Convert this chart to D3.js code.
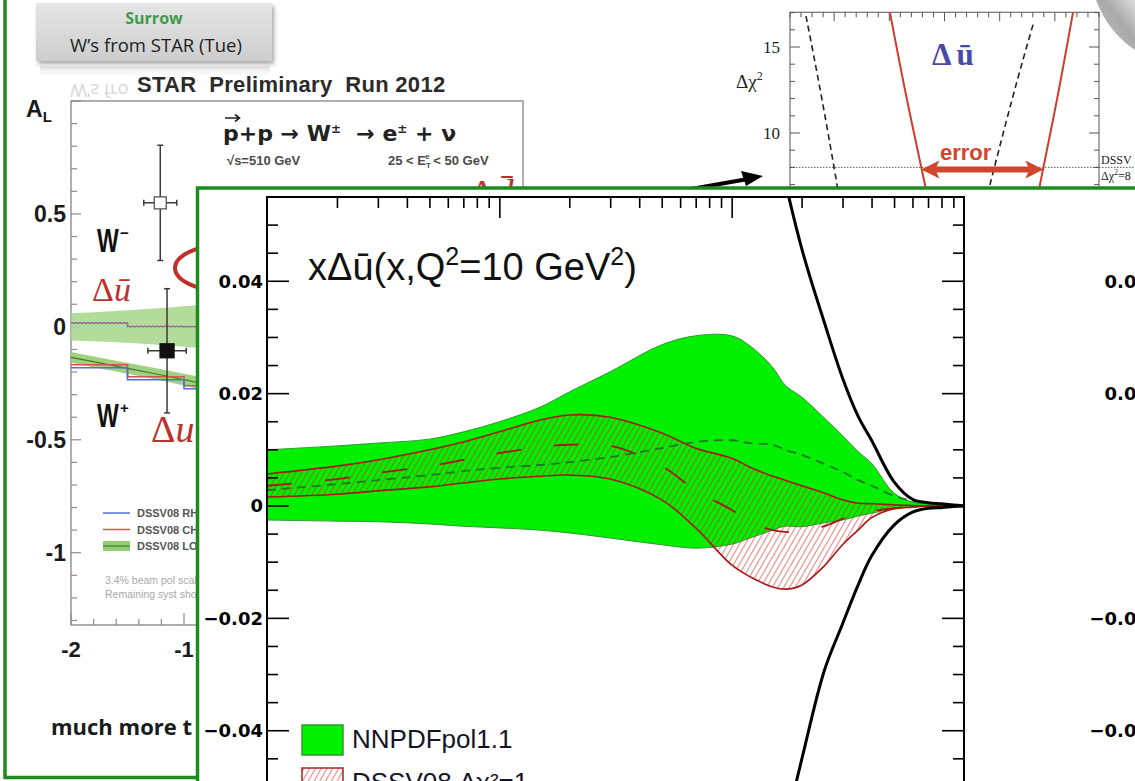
<!DOCTYPE html>
<html><head><meta charset="utf-8">
<script src="https://cdn.jsdelivr.net/npm/d3@7"></script>
<style>
html,body{margin:0;padding:0;background:#fff;}
svg{display:block;}
</style></head><body>
<svg id="chart" width="1135" height="781"></svg>
<script>
// ---------- x*Delta-ubar(x, Q^2 = 10 GeV^2) ----------
const xGrid = [0.001,0.002,0.003,0.005,0.007,0.01,0.015,0.02,0.03,0.05,0.07,0.1,0.12,0.15,0.17,0.2,0.25,0.3,0.35,0.4,0.5,0.6,0.7,0.8,0.9,1.0];
const nnpdfUpper = [0.0100,0.0107,0.0112,0.0119,0.0132,0.0150,0.0176,0.0203,0.0239,0.0287,0.0303,0.0303,0.0285,0.0247,0.0215,0.0194,0.0157,0.0125,0.0097,0.0076,0.0023,0.0007,0.0004,0.0002,0.0000,0.0000];
const nnpdfLower = [-0.0025,-0.0027,-0.0028,-0.0032,-0.0036,-0.0039,-0.0043,-0.0048,-0.0057,-0.0069,-0.0075,-0.0068,-0.0057,-0.0043,-0.0036,-0.0037,-0.0030,-0.0025,-0.0018,-0.0013,-0.0005,-0.0002,-0.0001,0,0,0];
const nnpdfCentral = [0.0028,0.0039,0.0046,0.0055,0.0062,0.0068,0.0073,0.0078,0.0087,0.0103,0.0114,0.0117,0.0112,0.0109,0.0100,0.0091,0.0075,0.0061,0.0046,0.0036,0.0018,0.0009,0.0004,0.0002,0,0];
const dssvUpper = [0.0057,0.0071,0.0082,0.0100,0.0114,0.0132,0.0153,0.0162,0.0158,0.0130,0.0103,0.0085,0.0069,0.0053,0.0046,0.0036,0.0023,0.0011,0.0005,0.0004,0.0002,0.0001,0,0,0,0];
const dssvLower = [0.0016,0.0021,0.0027,0.0034,0.0041,0.0048,0.0053,0.0055,0.0048,0.0011,-0.0039,-0.0105,-0.0126,-0.0144,-0.0148,-0.0141,-0.0107,-0.0069,-0.0043,-0.0021,-0.0005,-0.0002,0,0,0,0];
const dssvCentral = [0.0036,0.0048,0.0059,0.0071,0.0082,0.0094,0.0105,0.0109,0.0107,0.0071,0.0028,-0.0007,-0.0028,-0.0043,-0.0046,-0.0046,-0.0036,-0.0023,-0.0014,-0.0009,-0.0004,-0.0002,-0.0001,0,0,0];
const boundX = [0.15,0.2,0.25,0.3,0.35,0.4,0.5,0.6,0.7,0.8,0.9,1.0];
const boundUpper = [0.0675,0.0459,0.0328,0.0228,0.0160,0.0117,0.0043,0.0012,0.0006,0.0004,0.0002,0];
const boundLower = [-0.0666,-0.0452,-0.0294,-0.0210,-0.0141,-0.0089,-0.0034,-0.0011,-0.0004,-0.0003,-0.0001,0];
const pdfYLabels = [0.04,0.02,0,-0.02,-0.04];
const legendNames = ["NNPDFpol1.1","DSSV08 \u0394\u03c7\u00b2=1"];

// ---------- STAR W asymmetry A_L vs eta ----------
const starEta = [-1.21,-1.15];
const starAL = [0.549,-0.106];
const starErrAL = [0.255,0.275];
const starErrEta = [0.146,0.17];
const bandEta = [-2.0,-1.6,-1.2,-0.8];
const wmBandHi = [0.060,0.070,0.083,0.100];
const wmBandLo = [-0.060,-0.068,-0.080,-0.097];
const wpBandHi = [-0.111,-0.150,-0.188,-0.228];
const wpBandLo = [-0.159,-0.198,-0.238,-0.282];
const stepEdges = [-2.0,-1.5,-1.0,-0.5];
const wmStepBlue = [0.016,0.001,0.0];
const wmStepRed = [0.018,0.003,0.002];
const wpStepBlue = [-0.181,-0.234,-0.274];
const wpStepRed = [-0.168,-0.221,-0.261];
const starYLabels = [0.5,0,-0.5,-1];
const starXLabels = [-2,-1,0,1,2];

// ---------- Delta chi^2 profile ----------
const chiRedLeftU = [-0.0494,-0.0340,-0.0177,-0.0161];
const chiRedLeftV = [17,11.94,7,6.5];
const chiRedRightU = [0.1164,0.1019,0.0865,0.0848];
const chiRedRightV = [17,11.94,7,6.5];
const chiDashLeftU = [-0.1255,-0.1110,-0.0974,-0.0965];
const chiDashLeftV = [16.8,11.94,7,6.5];
const chiDashRightU = [0.0802,0.0612,0.0412,0.0390];
const chiDashRightV = [16.3,11.94,7,6.5];
const chiYLabels = [10,15];
const chiTolerance = 8;

const svg = d3.select("#chart");
const defs = svg.append("defs");

const hatch = defs.append("pattern").attr("id","hatch")
  .attr("patternUnits","userSpaceOnUse").attr("width",5).attr("height",5)
  .attr("patternTransform","rotate(30)");
hatch.append("line").attr("x1",2.5).attr("y1",-1).attr("x2",2.5).attr("y2",6)
  .attr("stroke","#d42424").attr("stroke-width",1.1).attr("stroke-opacity",0.55);

const boxGrad = defs.append("linearGradient").attr("id","boxGrad").attr("x1",0).attr("y1",0).attr("x2",0).attr("y2",1);
boxGrad.append("stop").attr("offset","0%").attr("stop-color","#e6e6e6");
boxGrad.append("stop").attr("offset","100%").attr("stop-color","#cdcdcd");
const reflGrad = defs.append("linearGradient").attr("id","reflGrad").attr("x1",0).attr("y1",0).attr("x2",0).attr("y2",1);
reflGrad.append("stop").attr("offset","0%").attr("stop-color","#d0d0d0").attr("stop-opacity",0.8);
reflGrad.append("stop").attr("offset","100%").attr("stop-color","#ffffff").attr("stop-opacity",0);
const curlGrad = defs.append("linearGradient").attr("id","curlGrad").attr("x1",0).attr("y1",1).attr("x2",1).attr("y2",0);
curlGrad.append("stop").attr("offset","0%").attr("stop-color","#c4c4c4");
curlGrad.append("stop").attr("offset","60%").attr("stop-color","#a9a9a9");
curlGrad.append("stop").attr("offset","100%").attr("stop-color","#dcdcdc");
defs.append("filter").attr("id","soft").append("feGaussianBlur").attr("stdDeviation",2);
defs.append("clipPath").attr("id","reflClip").append("rect").attr("x",40).attr("y",60).attr("width",95).attr("height",40);

const FRAME_GREEN = "#1d8c1d";
const sans = "'Liberation Sans', Arial, sans-serif";
const wide = "'DejaVu Sans', Verdana, sans-serif";
const serif = "'Liberation Serif', 'DejaVu Serif', serif";
const noteFont = "'Open Sans', Lato, sans-serif";

// ===== slide frame =====
svg.append("line").attr("x1",5).attr("y1",0).attr("x2",5).attr("y2",779)
  .attr("stroke",FRAME_GREEN).attr("stroke-width",3.5);
svg.append("line").attr("x1",4).attr("y1",777.5).attr("x2",205).attr("y2",777.5)
  .attr("stroke",FRAME_GREEN).attr("stroke-width",3.5);

// ===== speaker note box =====
const note = svg.append("g");
note.append("rect").attr("x",38).attr("y",6).attr("width",236).attr("height",58)
  .attr("fill","#000").attr("opacity",0.35).attr("filter","url(#soft)");
note.append("rect").attr("x",36).attr("y",3).attr("width",236).attr("height",58).attr("fill","url(#boxGrad)");
note.append("text").attr("x",154).attr("y",24).attr("text-anchor","middle")
  .style("font-family",noteFont).style("font-weight","bold").style("font-size","16px")
  .attr("fill","#3f9a4c").text("Surrow");
note.append("text").attr("x",156).attr("y",52).attr("text-anchor","middle")
  .style("font-family",noteFont).style("font-size","18.5px")
  .attr("fill","#1e1e1e").text("W\u2019s from STAR (Tue)");
// faded reflection under the note
note.append("rect").attr("x",40).attr("y",66).attr("width",230).attr("height",12).attr("fill","url(#reflGrad)");
note.append("g").attr("clip-path","url(#reflClip)")
  .append("text").attr("transform","translate(0,136) scale(1,-1)").attr("x",70).attr("y",52)
  .style("font-family",noteFont).style("font-size","18.5px")
  .attr("fill","#d6d6d6").text("W\u2019s fro");

// ===== STAR A_L panel =====
const eta = d3.scaleLinear().domain([-2,2]).range([71,523]);
const al = d3.scaleLinear().domain([-1.32,1]).range([625,101]);
const star = svg.append("g");
star.append("text").attr("x",137).attr("y",92)
  .style("font-family",sans).style("font-weight","bold").style("font-size","22px").style("letter-spacing","0.3px")
  .attr("fill","#2b2b2b").attr("xml:space","preserve").text("STAR  Preliminary  Run 2012");
const aL = star.append("text").attr("x",26).attr("y",117)
  .style("font-family",sans).style("font-weight","bold").attr("fill","#1a1a1a");
aL.append("tspan").style("font-size","23px").text("A");
aL.append("tspan").style("font-size","15px").attr("dy",5).text("L");

star.append("rect").attr("x",eta(-2)).attr("y",al(1)).attr("width",eta(2)-eta(-2)).attr("height",al(-1.32)-al(1))
  .attr("fill","#fff").attr("stroke","#8c8c8c").attr("stroke-width",1.4);
const alTicks = d3.range(-13,11).map(i => i/10);
star.append("g").selectAll("line").data(alTicks).join("line")
  .attr("x1",eta(-2)).attr("x2",d => eta(-2) + (Math.abs(d*2 - Math.round(d*2)) < 1e-6 ? 10 : 6))
  .attr("y1",d => al(d)).attr("y2",d => al(d)).attr("stroke","#8c8c8c").attr("stroke-width",1.2);
const etaTicks = d3.range(-10,11).map(i => i/5);
star.append("g").selectAll("line").data(etaTicks).join("line")
  .attr("x1",d => eta(d)).attr("x2",d => eta(d))
  .attr("y1",al(-1.32)).attr("y2",d => al(-1.32) - (Math.abs(d - Math.round(d)) < 1e-6 ? 12 : 6))
  .attr("stroke","#8c8c8c").attr("stroke-width",1.2);
star.append("g").selectAll("text").data(starYLabels).join("text")
  .attr("x",66).attr("y",d => al(d)).attr("dy","0.36em").attr("text-anchor","end")
  .style("font-family",sans).style("font-weight","bold").style("font-size","23px").attr("fill","#1a1a1a")
  .text(d => d === 0 ? "0" : String(d));
star.append("g").selectAll("text").data(starXLabels).join("text")
  .attr("x",d => eta(d)).attr("y",657).attr("text-anchor","middle")
  .style("font-family",sans).style("font-weight","bold").style("font-size","22px").attr("fill","#1a1a1a")
  .text(d => String(d));

// process header
const proc = star.append("text").attr("x",223).attr("y",141)
  .style("font-family",wide).style("font-weight","bold").style("font-size","22px").attr("fill","#222");
proc.append("tspan").text("p+p \u2192 W");
proc.append("tspan").attr("dy",-8).style("font-size","12px").text("\u00b1");
proc.append("tspan").attr("dy",8).attr("xml:space","preserve").text("  \u2192 e");
proc.append("tspan").attr("dy",-8).style("font-size","12px").text("\u00b1");
proc.append("tspan").attr("dy",8).text(" + \u03bd");
star.append("path").attr("d","M225,118 L239,118 M235,114.5 L239.5,118 L235,121.5")
  .attr("fill","none").attr("stroke","#222").attr("stroke-width",1.6);
star.append("text").attr("x",227).attr("y",165)
  .style("font-family",sans).style("font-weight","bold").style("font-size","13px").attr("fill","#4a4a4a")
  .text("\u221as=510 GeV");
const et = star.append("text").attr("x",388).attr("y",165)
  .style("font-family",sans).style("font-weight","bold").style("font-size","13px").attr("fill","#4a4a4a");
et.append("tspan").text("25 < E");
et.append("tspan").attr("dy",3).style("font-size","8px").text("T");
et.append("tspan").attr("dx",-5).attr("dy",-9).style("font-size","8px").text("e");
et.append("tspan").attr("dy",6).text(" < 50 GeV");
star.append("text").attr("x",470).attr("y",206)
  .style("font-family",serif).style("font-size","38px").attr("fill","#c0302a")
  .html("\u0394<tspan font-style='italic'>d\u0304</tspan>");

// theory bands
const areaEta = (hi, lo) => d3.area().x((d,i) => eta(bandEta[i])).y0((d,i) => al(lo[i])).y1((d,i) => al(hi[i])).curve(d3.curveMonotoneX);
star.append("path").datum(bandEta).attr("d",areaEta(wmBandHi,wmBandLo)).attr("fill","#a6d68a").attr("opacity",0.85);
star.append("path").datum(bandEta).attr("d",areaEta(wpBandHi,wpBandLo)).attr("fill","#93cc72").attr("opacity",0.9);
star.append("path").datum(bandEta)
  .attr("d",d3.line().x((d,i) => eta(bandEta[i])).y((d,i) => al((wpBandHi[i]+wpBandLo[i])/2)).curve(d3.curveMonotoneX))
  .attr("fill","none").attr("stroke","#3d7d2a").attr("stroke-width",1.2);
const stepLine = vals => d3.line().x(d => eta(d[0])).y(d => al(d[1])).curve(d3.curveStepAfter)(
  stepEdges.map((e,i) => [e, vals[Math.min(i, vals.length-1)]]));
star.append("path").attr("d",stepLine(wmStepRed)).attr("fill","none").attr("stroke","#d05555").attr("stroke-width",1.5).attr("stroke-dasharray","2,2");
star.append("path").attr("d",stepLine(wmStepBlue)).attr("fill","none").attr("stroke","#5070d6").attr("stroke-width",1.5).attr("stroke-dasharray","2,2").attr("stroke-dashoffset",2);
star.append("path").attr("d",stepLine(wpStepRed)).attr("fill","none").attr("stroke","#d05555").attr("stroke-width",1.6);
star.append("path").attr("d",stepLine(wpStepBlue)).attr("fill","none").attr("stroke","#5070d6").attr("stroke-width",1.6);

// data points with error bars
starEta.forEach((e,i) => {
  const g = star.append("g").attr("stroke","#3a3a3a").attr("stroke-width",1.5);
  g.append("line").attr("x1",eta(e)).attr("x2",eta(e)).attr("y1",al(starAL[i]+starErrAL[i])).attr("y2",al(starAL[i]-starErrAL[i]));
  g.append("line").attr("x1",eta(e)-3).attr("x2",eta(e)+3).attr("y1",al(starAL[i]+starErrAL[i])).attr("y2",al(starAL[i]+starErrAL[i]));
  g.append("line").attr("x1",eta(e)-3).attr("x2",eta(e)+3).attr("y1",al(starAL[i]-starErrAL[i])).attr("y2",al(starAL[i]-starErrAL[i]));
  g.append("line").attr("x1",eta(e-starErrEta[i])).attr("x2",eta(e+starErrEta[i])).attr("y1",al(starAL[i])).attr("y2",al(starAL[i]));
  g.append("line").attr("x1",eta(e-starErrEta[i])).attr("x2",eta(e-starErrEta[i])).attr("y1",al(starAL[i])-3).attr("y2",al(starAL[i])+3);
  g.append("line").attr("x1",eta(e+starErrEta[i])).attr("x2",eta(e+starErrEta[i])).attr("y1",al(starAL[i])-3).attr("y2",al(starAL[i])+3);
  const s = i === 0 ? 12 : 14;
  star.append("rect").attr("x",eta(e)-s/2).attr("y",al(starAL[i])-s/2).attr("width",s).attr("height",s)
    .attr("fill",i === 0 ? "#fff" : "#111").attr("stroke",i === 0 ? "#555" : "#111").attr("stroke-width",1.3);
});

// boson and quark labels
[["W","\u2212",252],["W","+",427]].forEach(([w,sgn,y]) => {
  star.append("text").attr("transform",`translate(97,${y}) scale(0.7,1)`)
    .style("font-family",sans).style("font-weight","bold").style("font-size","33px").attr("fill","#111").text(w);
  star.append("text").attr("x",120).attr("y",y-14)
    .style("font-family",sans).style("font-weight","bold").style("font-size","15px").attr("fill","#111").text(sgn);
});
star.append("text").attr("x",92).attr("y",301)
  .style("font-family",serif).style("font-size","34px").attr("fill","#c0302a")
  .html("\u0394<tspan font-style='italic'>u\u0304</tspan>");
star.append("text").attr("x",151).attr("y",442)
  .style("font-family",serif).style("font-size","38px").attr("fill","#c0302a")
  .html("\u0394<tspan font-style='italic'>u</tspan>");
star.append("ellipse").attr("cx",236).attr("cy",268).attr("rx",61).attr("ry",25)
  .attr("fill","none").attr("stroke","#c0302a").attr("stroke-width",4);

// STAR legend
const starLegend = [["#5070d6","DSSV08 RHICBOS"],["#d05555","DSSV08 CHE NLO"],["#93cc72","DSSV08 LO"]];
starLegend.forEach(([c,t],i) => {
  const y = 513 + i*16.5;
  if (i === 2) {
    star.append("rect").attr("x",103).attr("y",y-5).attr("width",27).attr("height",10).attr("fill",c);
    star.append("line").attr("x1",103).attr("x2",130).attr("y1",y).attr("y2",y).attr("stroke","#3d7d2a").attr("stroke-width",1.2);
  } else {
    star.append("line").attr("x1",103).attr("x2",130).attr("y1",y).attr("y2",y).attr("stroke",c).attr("stroke-width",1.5);
  }
  star.append("text").attr("x",137).attr("y",y+4)
    .style("font-family",sans).style("font-weight","bold").style("font-size","11px").attr("fill","#555").text(t);
});
star.append("text").attr("x",105).attr("y",584).style("font-family",sans).style("font-size","10.5px").attr("fill","#a8a8a8")
  .text("3.4% beam pol scale unc. not shown");
star.append("text").attr("x",105).attr("y",598).style("font-family",sans).style("font-size","10.5px").attr("fill","#a8a8a8")
  .text("Remaining syst shown");

svg.append("text").attr("x",51).attr("y",735)
  .style("font-family",noteFont).style("font-weight","bold").style("font-size","22px").attr("fill","#1a1a1a")
  .text("much more t");

// ===== Delta chi^2 profile panel =====
const cu = d3.scaleLinear().domain([-0.14,0.14]).range([790,1099]);
const cv = d3.scaleLinear().domain([10,15]).range([133,47]);
const chi = svg.append("g");
chi.append("rect").attr("x",790).attr("y",cv(17.02)).attr("width",309).attr("height",200)
  .attr("fill","#fff").attr("stroke","#555").attr("stroke-width",1);
const vTicks = d3.range(7,18);
chi.append("g").selectAll("line").data(vTicks).join("line")
  .attr("x1",790).attr("x2",d => 790 + (d % 5 === 0 ? 10 : 5)).attr("y1",d => cv(d)).attr("y2",d => cv(d))
  .attr("stroke","#555").attr("stroke-width",1);
chi.append("g").selectAll("line").data(vTicks).join("line")
  .attr("x1",1099).attr("x2",d => 1099 - (d % 5 === 0 ? 10 : 5)).attr("y1",d => cv(d)).attr("y2",d => cv(d))
  .attr("stroke","#555").attr("stroke-width",1);
const uTicks = d3.range(-14,15).map(i => i/100);
chi.append("g").selectAll("line").data(uTicks).join("line")
  .attr("x1",d => cu(d)).attr("x2",d => cu(d)).attr("y1",cv(17.02))
  .attr("y2",d => cv(17.02) + (Math.abs(d*20 - Math.round(d*20)) < 1e-6 ? 9 : 5))
  .attr("stroke","#555").attr("stroke-width",1);
chi.append("g").selectAll("text").data(chiYLabels).join("text")
  .attr("x",780).attr("y",d => cv(d)).attr("dy","0.35em").attr("text-anchor","end")
  .style("font-family",serif).style("font-size","17px").attr("fill","#222").text(d => d);
const dchi = chi.append("text").attr("x",736).attr("y",88).style("font-family",serif).style("font-size","19px").attr("fill","#222");
dchi.append("tspan").text("\u0394\u03c7");
dchi.append("tspan").attr("dy",-8).style("font-size","12px").text("2");
chi.append("line").attr("x1",790).attr("x2",1135).attr("y1",cv(chiTolerance)).attr("y2",cv(chiTolerance))
  .attr("stroke","#333").attr("stroke-width",0.8).attr("stroke-dasharray","1.5,1.5");
chi.append("text").attr("x",1101).attr("y",164).style("font-family",serif).style("font-size","12px").attr("fill","#222").text("DSSV");
const dchi8 = chi.append("text").attr("x",1101).attr("y",180).style("font-family",serif).style("font-size","12px").attr("fill","#222");
dchi8.append("tspan").text("\u0394\u03c7");
dchi8.append("tspan").attr("dy",-5).style("font-size","8px").text("2");
dchi8.append("tspan").attr("dy",5).text("=8");
const chiLine = d3.line().x(d => cu(d[0])).y(d => cv(d[1])).curve(d3.curveNatural);
const zip = (a,b) => a.map((v,i) => [v,b[i]]);
chi.append("path").attr("d",chiLine(zip(chiDashLeftU,chiDashLeftV))).attr("fill","none").attr("stroke","#222").attr("stroke-width",1.6).attr("stroke-dasharray","6,4");
chi.append("path").attr("d",chiLine(zip(chiDashRightU,chiDashRightV))).attr("fill","none").attr("stroke","#222").attr("stroke-width",1.6).attr("stroke-dasharray","6,4");
chi.append("path").attr("d",chiLine(zip(chiRedLeftU,chiRedLeftV))).attr("fill","none").attr("stroke","#d23a2a").attr("stroke-width",2);
chi.append("path").attr("d",chiLine(zip(chiRedRightU,chiRedRightV))).attr("fill","none").attr("stroke","#d23a2a").attr("stroke-width",2);
const du = chi.append("text").attr("x",932).attr("y",65).style("font-family",serif).style("font-weight","bold").style("font-size","31px")
  .attr("fill","#4a4aa6");
du.append("tspan").text("\u0394");
du.append("tspan").attr("dx",5).text("\u016b");
chi.append("text").attr("x",940).attr("y",160).style("font-family",sans).style("font-weight","bold").style("font-size","22px")
  .attr("fill","#d0452c").text("error");
// double arrow spanning the tolerance interval
{
  const xa = cu(chiRedLeftU[1] + (chiRedLeftU[2]-chiRedLeftU[1])*(11.94-chiTolerance)/(11.94-7));
  const xb = cu(chiRedRightU[1] + (chiRedRightU[2]-chiRedRightU[1])*(11.94-chiTolerance)/(11.94-7));
  const y = cv(chiTolerance) + 2;
  chi.append("line").attr("x1",xa+12).attr("x2",xb-12).attr("y1",y).attr("y2",y).attr("stroke","#d0452c").attr("stroke-width",6);
  chi.append("path").attr("d",`M${xa},${y} L${xa+18},${y-9} L${xa+14},${y} L${xa+18},${y+9} Z`).attr("fill","#d0452c");
  chi.append("path").attr("d",`M${xb},${y} L${xb-18},${y-9} L${xb-14},${y} L${xb-18},${y+9} Z`).attr("fill","#d0452c");
}

// pointer arrow and page corner
svg.append("line").attr("x1",640).attr("y1",198).attr("x2",748).attr("y2",179).attr("stroke","#000").attr("stroke-width",4);
svg.append("path").attr("d","M763,176 L741,171 L746,186 Z").attr("fill","#000");
svg.append("path").attr("d","M1096,0 Q1108,32 1135,50 L1135,0 Z").attr("fill","url(#curlGrad)");

// ===== inset: x Delta-ubar =====
const inset = svg.append("g");
inset.append("rect").attr("x",197.5).attr("y",188).attr("width",960).attr("height",620)
  .attr("fill","#fff").attr("stroke",FRAME_GREEN).attr("stroke-width",3.5);

const px = d3.scaleLog().domain([1e-3,1]).range([267,964]);
const py = d3.scaleLinear().domain([-0.055,0.055]).range([815,197]);
defs.append("clipPath").attr("id","plotClip").append("rect").attr("x",267).attr("y",197).attr("width",697).attr("height",620);
const plot = inset.append("g").attr("clip-path","url(#plotClip)");

const smooth = d3.curveCatmullRom.alpha(0.5);
const band = (hi, lo, xs) => d3.area().x((d,i) => px(xs[i])).y0((d,i) => py(lo[i])).y1((d,i) => py(hi[i])).curve(smooth)(xs);
const curve = (vals, xs) => d3.line().x((d,i) => px(xs[i])).y((d,i) => py(vals[i])).curve(smooth)(xs);

plot.append("path").attr("d",band(nnpdfUpper,nnpdfLower,xGrid)).attr("fill","#00f000").attr("stroke","#2f9a2f").attr("stroke-width",1);
plot.append("path").attr("d",band(dssvUpper,dssvLower,xGrid)).attr("fill","url(#hatch)");
plot.append("path").attr("d",curve(dssvUpper,xGrid)).attr("fill","none").attr("stroke","#a81818").attr("stroke-width",1.6);
plot.append("path").attr("d",curve(dssvLower,xGrid)).attr("fill","none").attr("stroke","#a81818").attr("stroke-width",1.6);
plot.append("path").attr("d",curve(dssvCentral,xGrid)).attr("fill","none").attr("stroke","#a81818").attr("stroke-width",1.8).attr("stroke-dasharray","25,33");
plot.append("path").attr("d",curve(nnpdfCentral,xGrid)).attr("fill","none").attr("stroke","#1b7a22").attr("stroke-width",1.8).attr("stroke-dasharray","9,6");
plot.append("path").attr("d",curve(boundUpper,boundX)).attr("fill","none").attr("stroke","#000").attr("stroke-width",3);
plot.append("path").attr("d",curve(boundLower,boundX)).attr("fill","none").attr("stroke","#000").attr("stroke-width",3);

// frame and ticks
inset.append("path").attr("d",`M267,820 L267,197 L964,197 L964,820`).attr("fill","none").attr("stroke","#000").attr("stroke-width",2);
const xMinor = px.ticks().filter(d => d < 1);
const isDecade = d => Math.abs(Math.log10(d) - Math.round(Math.log10(d))) < 1e-9;
inset.append("g").attr("transform","translate(0,197)")
  .call(d3.axisBottom(px).tickValues(xMinor.filter(d => !isDecade(d))).tickSize(11).tickFormat(""))
  .call(g => g.select(".domain").remove()).selectAll("line").attr("stroke-width",1.6);
inset.append("g").attr("transform","translate(0,197)")
  .call(d3.axisBottom(px).tickValues(xMinor.filter(isDecade).filter(d => d > 1e-3)).tickSize(21).tickFormat(""))
  .call(g => g.select(".domain").remove()).selectAll("line").attr("stroke-width",1.6);
const yMinor = d3.range(-11,12).map(i => i*0.005);
const isMajorY = d => Math.abs(d/0.02 - Math.round(d/0.02)) < 1e-6;
[[267,1],[964,-1]].forEach(([x0,dir]) => {
  inset.append("g").selectAll("line").data(yMinor).join("line")
    .attr("x1",x0).attr("x2",d => x0 + dir*(isMajorY(d) ? 22 : 11))
    .attr("y1",d => py(d)).attr("y2",d => py(d)).attr("stroke","#000").attr("stroke-width",1.6);
});
inset.append("g").call(d3.axisLeft(py).tickValues(pdfYLabels).tickSize(0).tickPadding(0)
    .tickFormat(d => d === 0 ? "0" : d3.format(".2f")(d)))
  .attr("transform","translate(263,0)")
  .call(g => g.select(".domain").remove())
  .selectAll("text").style("font-family",wide).style("font-weight","bold").style("font-size","18px").attr("fill","#000");
// labels of the neighbouring panel on the right
inset.append("g").call(d3.axisLeft(py).tickValues(pdfYLabels.filter(d => d !== 0)).tickSize(0).tickPadding(0)
    .tickFormat(d => d3.format(".2f")(d)))
  .attr("transform","translate(1149,0)")
  .call(g => g.select(".domain").remove())
  .selectAll("text").style("font-family",wide).style("font-weight","bold").style("font-size","18px").attr("fill","#000");

// title
const title = inset.append("text").attr("x",308).attr("y",280)
  .style("font-family",sans).style("font-size","38px").attr("fill","#111");
title.append("tspan").text("x\u0394\u016b(x,Q");
title.append("tspan").attr("dy",-15).style("font-size","25px").text("2");
title.append("tspan").attr("dy",15).text("=10 GeV");
title.append("tspan").attr("dy",-15).style("font-size","25px").text("2");
title.append("tspan").attr("dy",15).text(")");

// legend
const legFills = ["#00f000","url(#hatch)"];
const legStrokes = ["#2f9a2f","#b02020"];
legendNames.forEach((name,i) => {
  const y = 725 + i*43;
  inset.append("rect").attr("x",302).attr("y",y).attr("width",41).attr("height",30)
    .attr("fill",legFills[i]).attr("stroke",legStrokes[i]).attr("stroke-width",1.5);
  inset.append("text").attr("x",352).attr("y",y+23)
    .style("font-family",sans).style("font-size","26px").attr("fill","#141428").text(name);
});
</script>
</body></html>
